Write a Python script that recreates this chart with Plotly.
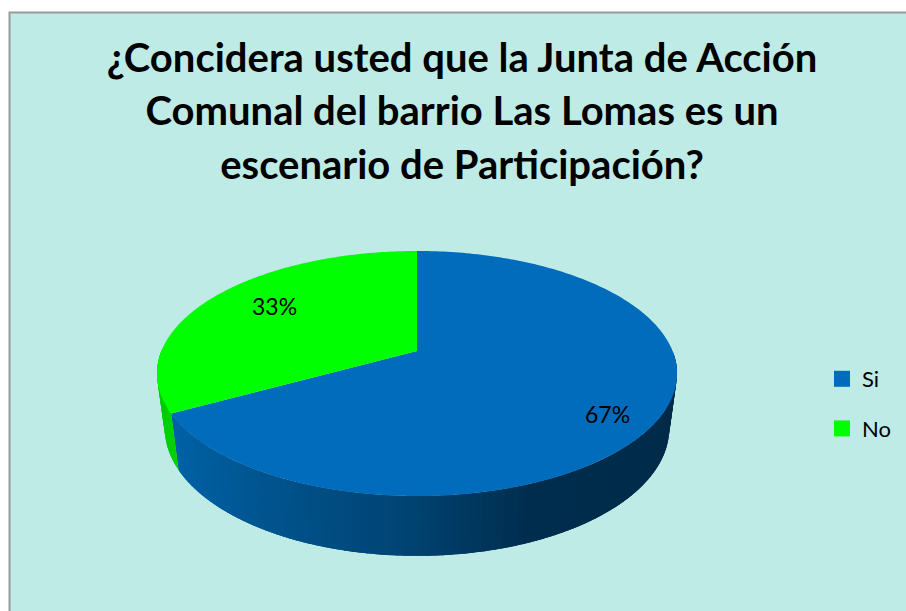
import numpy as np
import plotly.graph_objects as go

categories = ["Si", "No"]
values = [67, 33]
labels = ["67%", "33%"]
title_lines = ["¿Concidera usted que la Junta de Acción",
               "Comunal del barrio Las Lomas es un",
               "escenario de Participación?"]

W, H = 906, 611
BG = "#BEEBE5"
TOP = {"Si": "#006CBB", "No": "#00FF00"}
CX, CY = 417.0, 351.0
R, A, K = 255.6, 118.4, 0.1837
SX, SY, DROP = 0.97, 1.04, 54.0


def top_xy(theta, r=1.0):
    u, v = r * np.sin(theta), r * np.cos(theta)
    w = 1 + K * v
    return R * u / w, A * v / w


def to_px(x, y):
    return CX + x, CY - y


def top_pt(theta, r=1.0):
    return to_px(*top_xy(theta, r))


def bot_pt(theta):
    x, y = top_xy(theta)
    return to_px(x * SX, y * SY - DROP)


def mix(c1, c2, t):
    return "rgb(%d,%d,%d)" % tuple(round(a + (b - a) * t) for a, b in zip(c1, c2))


def wall_color(cat, theta):
    # shading follows the horizontal position of the wall
    s = np.sin(theta)
    if cat == "No":
        return mix((0, 215, 0), (0, 195, 0), min(1, max(0, -s - 0.8) * 3))
    stops = [(-1.01, (0, 102, 175)), (-0.5, (0, 84, 142)), (0.0, (0, 66, 112)),
             (0.37, (0, 45, 78)), (1.01, (0, 42, 72))]
    for (a, ca), (b, cb) in zip(stops, stops[1:]):
        if s <= b:
            return mix(ca, cb, (s - a) / (b - a))
    return mix(stops[-1][1], stops[-1][1], 0)


total = sum(values)
ends = np.cumsum(values) / total * 2 * np.pi
starts = np.concatenate([[0], ends[:-1]])

fig = go.Figure()

# Side wall, visible on the near half only; each strip overlaps the next to avoid seams
for cat, a0, a1 in zip(categories, starts, ends):
    lo, hi = max(a0, np.pi / 2), min(a1, 3 * np.pi / 2 + 0.02)
    if hi <= lo:
        continue
    n = max(2, int((hi - lo) / 0.025))
    edges = np.linspace(lo, hi, n + 1)
    for t0, t1 in zip(edges[:-1], edges[1:]):
        ts = np.linspace(t0, min(t1 + 0.03, hi), 4)
        tx, ty = top_pt(ts)
        bx, by = bot_pt(ts[::-1])
        fig.add_trace(go.Scatter(
            x=np.concatenate([tx, bx]), y=np.concatenate([ty, by]),
            mode="none", fill="toself", fillcolor=wall_color(cat, (t0 + t1) / 2),
            showlegend=False, hoverinfo="skip"))

# Top face
for cat, a0, a1 in zip(categories, starts, ends):
    ts = np.linspace(a0, a1, 240)
    ex, ey = top_pt(ts)
    fig.add_trace(go.Scatter(
        x=np.concatenate([[CX], ex, [CX]]), y=np.concatenate([[CY], ey, [CY]]),
        mode="none", fill="toself", fillcolor=TOP[cat],
        showlegend=False, hoverinfo="skip"))

# Legend entries
for cat in categories:
    fig.add_trace(go.Scatter(
        x=[None], y=[None], mode="markers", name=cat, legendgroup=cat,
        marker=dict(symbol="square", size=19, color=TOP[cat])))

# Percentage labels, placed along each slice's mid angle
label_r = [0.80, 0.69]
label_shift = [-11, 6]
annotations = []
for mid, txt, r, sh in zip((starts + ends) / 2, labels, label_r, label_shift):
    lx, ly = top_pt(mid, r)
    annotations.append(dict(x=float(lx), y=float(ly), text=txt, showarrow=False, yshift=sh,
                            font=dict(family="Lato", size=23, color="#000000")))

title_html = "<br>".join('<span style="font-size:40px">%s</span>' % s for s in title_lines)

fig.update_layout(
    width=W, height=H, autosize=False,
    margin=dict(l=0, r=0, t=0, b=0),
    paper_bgcolor="#FFFFFF", plot_bgcolor="#FFFFFF",
    xaxis=dict(range=[0, W], visible=False, fixedrange=True),
    yaxis=dict(range=[H, 0], visible=False, fixedrange=True),
    title=dict(text=title_html, x=462 / W, xanchor="center", y=1 - 72 / H, yanchor="top",
               font=dict(family="Lato", size=41, color="#000000", weight="bold")),
    legend=dict(x=822 / W, y=1 - 358 / H, xanchor="left", yanchor="top",
                font=dict(family="Lato", size=22, color="#000000"),
                tracegroupgap=18, bgcolor="rgba(0,0,0,0)", itemsizing="trace"),
    shapes=[dict(type="rect", layer="below", x0=9.5, y0=12.5, x1=W + 10, y1=H + 10,
                 line=dict(color="#9A9A9A", width=2), fillcolor=BG)],
    annotations=annotations,
)
fig.write_html("out.html", config={"displayModeBar": False},
               post_script="document.body.style.margin='0';document.body.style.overflow='hidden';")
